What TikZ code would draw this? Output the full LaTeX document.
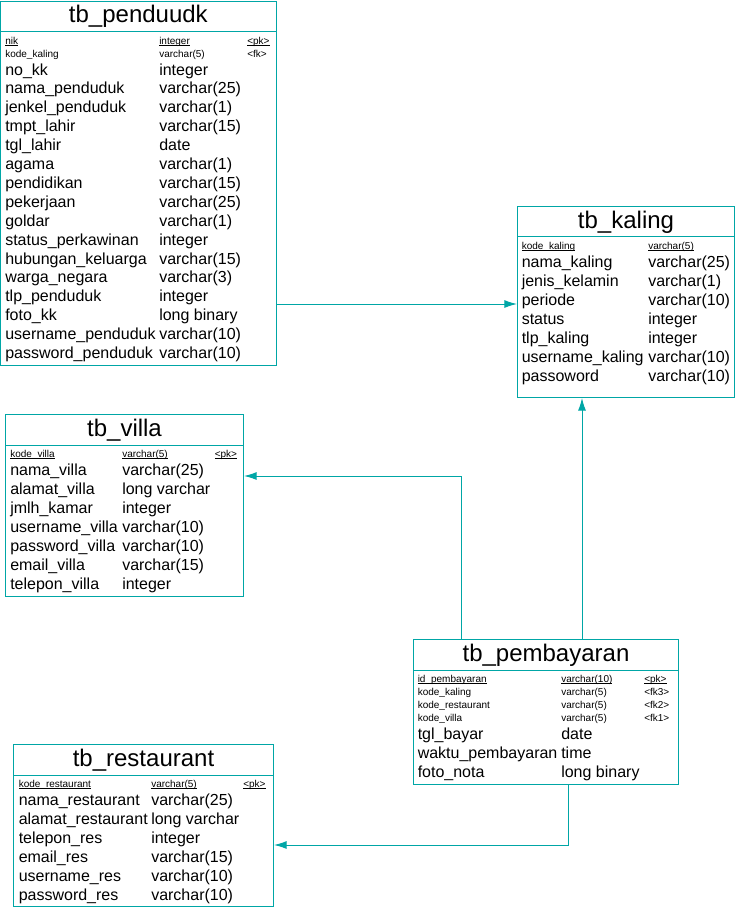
\documentclass[tikz,border=0pt]{standalone}
\usepackage{fontspec}
\setmainfont{Liberation Sans}
\usetikzlibrary{fit,calc,arrows.meta}
\definecolor{linecol}{RGB}{0,166,166}
\newcommand{\myul}[1]{\setbox0\hbox{#1}\rlap{\rule[-1.3pt]{\wd0}{0.6pt}}\box0}
\tikzset{
  tbl/.style={draw=linecol, line width=0.75pt, inner sep=0pt},
  sepl/.style={draw=linecol, line width=0.75pt},
  ttl/.style={font=\fontsize{18}{20}\selectfont, anchor=base, inner sep=0pt},
  big/.style={font=\fontsize{12}{14}\selectfont, anchor=base west, inner sep=0pt},
  sml/.style={font=\fontsize{7.5}{9}\selectfont, anchor=base west, inner sep=0pt},
  conn/.style={draw=linecol, line width=0.75pt, -{Latex[length=9.5pt,width=6pt]}},
}
\begin{document}
\begin{tikzpicture}[x=0.75pt,y=-0.75pt]
\useasboundingbox (0,0) rectangle (735,908);

% ---------- tb_penduudk ----------
\node[tbl, fit={(0.75,1)(276,365.5)}] (pend) {};
\node[ttl] (pendT) at ($(pend.north)+(0,22)$) {tb\_penduudk};
\draw[sepl] ($(pend.north west)+(0,30.5)$) -- ($(pend.north east)+(0,30.5)$);
\node[sml] (pendN0) at (5,44) {\myul{nik}};
\node[sml] (pendY0) at (159,44) {\myul{integer}};
\node[sml] (pendK0) at (247,44) {\myul{<pk>}};
\node[sml] (pendN1) at (5,57) {kode\_kaling};
\node[sml] (pendY1) at (159,57) {varchar(5)};
\node[sml] (pendK1) at (247,57) {<fk>};
\foreach \n/\t [count=\i from 0] in {no\_kk/integer, nama\_penduduk/varchar(25), jenkel\_penduduk/varchar(1), tmpt\_lahir/varchar(15), tgl\_lahir/date, agama/varchar(1), pendidikan/varchar(15), pekerjaan/varchar(25), goldar/varchar(1), status\_perkawinan/integer, hubungan\_keluarga/varchar(15), warga\_negara/varchar(3), tlp\_penduduk/integer, foto\_kk/long binary, username\_penduduk/varchar(10), password\_penduduk/varchar(10)}{
  \node[big] (pendBN\i) at (5,75+\i*18.9) {\n};
  \node[big] (pendBT\i) at (159,75+\i*18.9) {\t};
}

% ---------- tb_kaling ----------
\node[tbl, fit={(517.5,206.5)(734.5,397.5)}] (kal) {};
\node[ttl] (kalT) at ($(kal.north)+(0,22)$) {tb\_kaling};
\draw[sepl] ($(kal.north west)+(0,30.5)$) -- ($(kal.north east)+(0,30.5)$);
\node[sml] (kalN0) at (521.5,249) {\myul{kode\_kaling}};
\node[sml] (kalY0) at (648,249) {\myul{varchar(5)}};
\foreach \n/\t [count=\i from 0] in {nama\_kaling/varchar(25), jenis\_kelamin/varchar(1), periode/varchar(10), status/integer, tlp\_kaling/integer, username\_kaling/varchar(10), passoword/varchar(10)}{
  \node[big] (kalBN\i) at (521.5,267+\i*19) {\n};
  \node[big] (kalBT\i) at (648,267+\i*19) {\t};
}

% ---------- tb_villa ----------
\node[tbl, fit={(5.5,414.5)(243.5,596.5)}] (villa) {};
\node[ttl] (villaT) at ($(villa.north)+(0,22)$) {tb\_villa};
\draw[sepl] ($(villa.north west)+(0,31)$) -- ($(villa.north east)+(0,31)$);
\node[sml] (villaN0) at (10,457) {\myul{kode\_villa}};
\node[sml] (villaY0) at (122,457) {\myul{varchar(5)}};
\node[sml] (villaK0) at (214.5,457) {\myul{<pk>}};
\foreach \n/\t [count=\i from 0] in {nama\_villa/varchar(25), alamat\_villa/long varchar, jmlh\_kamar/integer, username\_villa/varchar(10), password\_villa/varchar(10), email\_villa/varchar(15), telepon\_villa/integer}{
  \node[big] (villaBN\i) at (10,475+\i*19) {\n};
  \node[big] (villaBT\i) at (122,475+\i*19) {\t};
}

% ---------- tb_pembayaran ----------
\node[tbl, fit={(413.5,639.5)(678.5,784)}] (pemb) {};
\node[ttl] (pembT) at ($(pemb.north)+(0,22)$) {tb\_pembayaran};
\draw[sepl] ($(pemb.north west)+(0,31.5)$) -- ($(pemb.north east)+(0,31.5)$);
\node[sml] (pembN0) at (417.5,682) {\myul{id\_pembayaran}};
\node[sml] (pembY0) at (561,682) {\myul{varchar(10)}};
\node[sml] (pembK0) at (644,682) {\myul{<pk>}};
\foreach \n/\t/\k [count=\i from 1] in {kode\_kaling/varchar(5)/<fk3>, kode\_restaurant/varchar(5)/<fk2>, kode\_villa/varchar(5)/<fk1>}{
  \node[sml] (pembN\i) at (417.5,682+\i*13) {\n};
  \node[sml] (pembY\i) at (561,682+\i*13) {\t};
  \node[sml] (pembK\i) at (644,682+\i*13) {\k};
}
\foreach \n/\t [count=\i from 0] in {tgl\_bayar/date, waktu\_pembayaran/time, foto\_nota/long binary}{
  \node[big] (pembBN\i) at (417.5,739+\i*19) {\n};
  \node[big] (pembBT\i) at (561,739+\i*19) {\t};
}

% ---------- tb_restaurant ----------
\node[tbl, fit={(13.5,744.5)(273.5,906.5)}] (rest) {};
\node[ttl] (restT) at ($(rest.north)+(0,22)$) {tb\_restaurant};
\draw[sepl] ($(rest.north west)+(0,31.5)$) -- ($(rest.north east)+(0,31.5)$);
\node[sml] (restN0) at (18.5,787) {\myul{kode\_restaurant}};
\node[sml] (restY0) at (151,787) {\myul{varchar(5)}};
\node[sml] (restK0) at (243,787) {\myul{<pk>}};
\foreach \n/\t [count=\i from 0] in {nama\_restaurant/varchar(25), alamat\_restaurant/long varchar, telepon\_res/integer, email\_res/varchar(15), username\_res/varchar(10), password\_res/varchar(10)}{
  \node[big] (restBN\i) at (18.5,805+\i*19) {\n};
  \node[big] (restBT\i) at (151,805+\i*19) {\t};
}

% ---------- connectors ----------
\coordinate (c1) at (0,304);
\coordinate (c2) at (461.5,476);
\coordinate (c3) at (582,0);
\coordinate (c4) at (568.5,845);
\draw[conn] (pend.east |- c1) -- (kal.west |- c1);
\draw[conn] (pemb.north -| c2) |- (villa.east |- c2);
\draw[conn] (pemb.north -| c3) -- (kal.south -| c3);
\draw[conn] (pemb.south -| c4) |- (rest.east |- c4);
\end{tikzpicture}
\end{document}
